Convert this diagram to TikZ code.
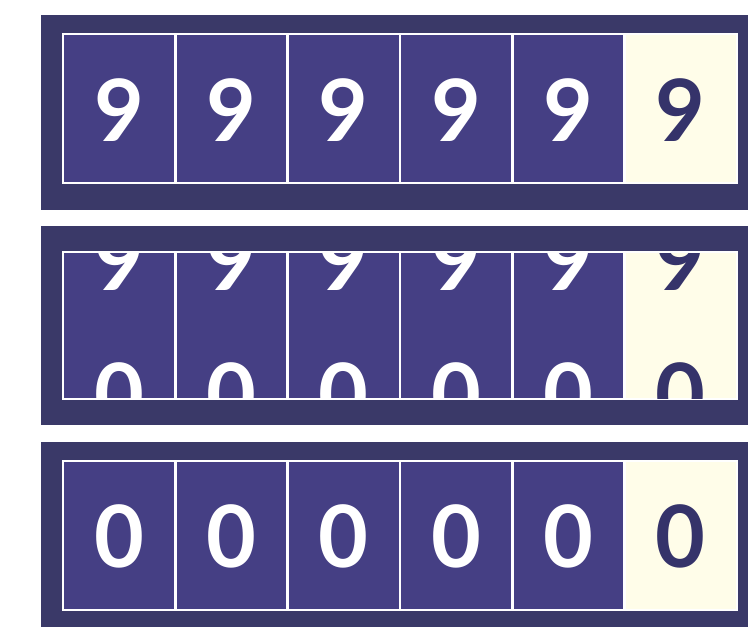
\documentclass[tikz,border=0pt]{standalone}
\usepackage{fontspec}
\newfontfamily\digitfont{Lato}
\definecolor{frameC}{HTML}{3A3968}
\definecolor{cellC}{HTML}{453F84}
\definecolor{lightC}{HTML}{FFFDE9}
\definecolor{darkD}{HTML}{35336A}
\tikzset{
  frame/.style={fill=frameC, draw=none},
  cellbox/.style={draw=white, line width=2.4pt, fill=cellC, minimum width=112.33pt, inner sep=0pt, outer sep=0pt},
  litebox/.style={cellbox, fill=lightC},
  digitW/.style={text=white, inner sep=0pt, font=\fontsize{86}{86}\digitfont\bfseries},
  digitD/.style={digitW, text=darkD}
}
\begin{document}
\begin{tikzpicture}[x=1pt,y=-1pt]
\useasboundingbox (0,0) rectangle (748,627);
\fill[white] (0,0) rectangle (748,627);
% frames
\fill[frame] (41,15) rectangle (760,210);
\fill[frame] (41,226) rectangle (760,425);
\fill[frame] (41,442) rectangle (760,627);
% top panel
\foreach \i in {0,...,4} {
  \node[cellbox, minimum height=149pt] (t\i) at ({63+112.33*(\i+0.5)},108.5) {};
  \node[digitW] (td\i) at ([yshift=-2pt]t\i.center) {9};
}
\node[litebox, minimum height=149pt] (t5) at ({63+112.33*5.5},108.5) {};
\node[digitD] (td5) at ([yshift=-2pt]t5.center) {9};
% middle panel
\foreach \i in {0,...,4} {
  \node[cellbox, minimum height=147pt] (m\i) at ({63+112.33*(\i+0.5)},325.5) {};
}
\node[litebox, minimum height=147pt] (m5) at ({63+112.33*5.5},325.5) {};
\begin{scope}
  \clip (63,253) rectangle (737,398);
  \foreach \i in {0,...,4} {
    \node[digitW] (mn\i) at ({63+112.33*(\i+0.5)},259) {9};
    \node[digitW] (mz\i) at ({63+112.33*(\i+0.5)},394) {0};
  }
  \node[digitD] (mn5) at ({63+112.33*5.5},259) {9};
  \node[digitD] (mz5) at ({63+112.33*5.5},394) {0};
\end{scope}
\foreach \i in {0,...,5} { \draw[white, line width=2.4pt] (m\i.north west) -- (m\i.north east); }
% bottom panel
\foreach \i in {0,...,4} {
  \node[cellbox, minimum height=149pt] (b\i) at ({63+112.33*(\i+0.5)},535.5) {};
  \node[digitW] (bd\i) at ([yshift=-1pt]b\i.center) {0};
}
\node[litebox, minimum height=149pt] (b5) at ({63+112.33*5.5},535.5) {};
\node[digitD] (bd5) at ([yshift=-1pt]b5.center) {0};
\end{tikzpicture}
\end{document}
